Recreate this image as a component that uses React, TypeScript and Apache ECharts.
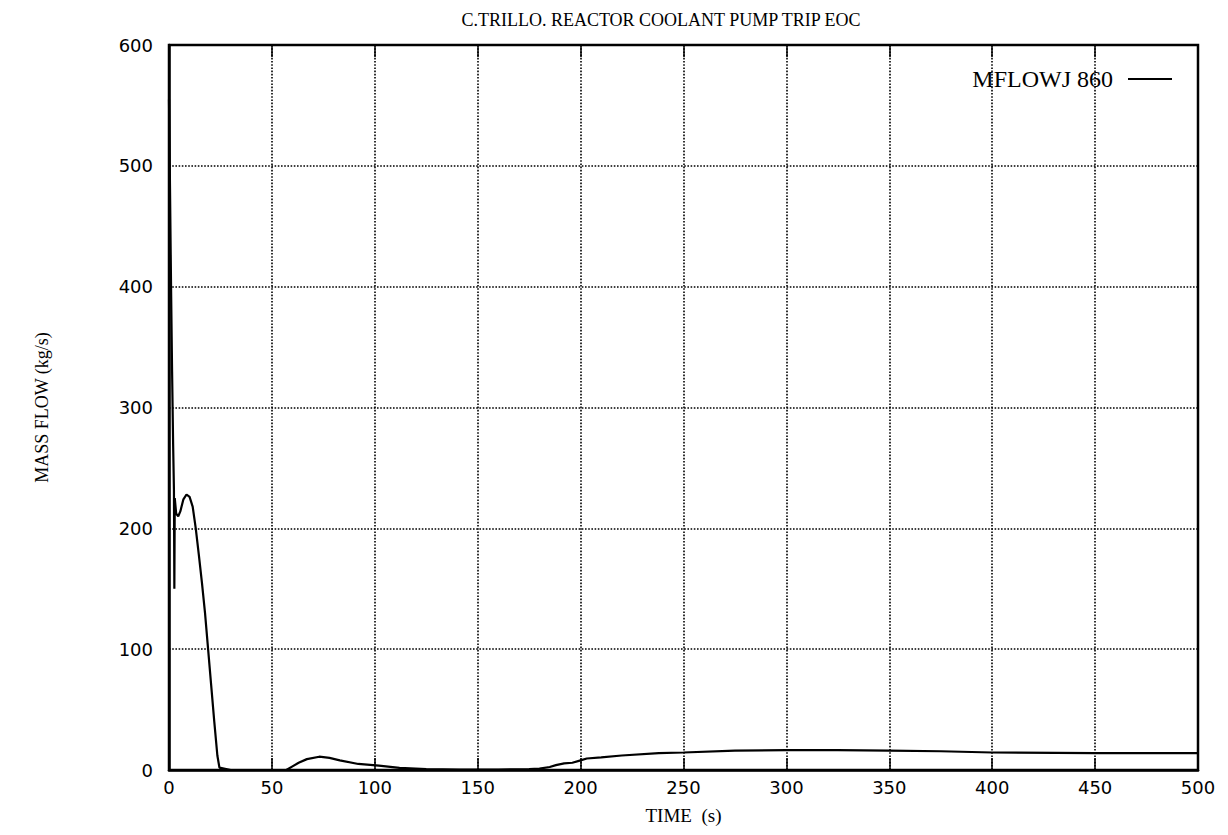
import React, { useEffect, useRef } from "react";
import * as echarts from "echarts";

// Mass flow through junction 860 versus time
const timeS: number[] = [
  0, 0.5, 1, 1.5, 2, 2.4, 2.6, 2.8, 3.5, 4.5, 5.5, 7, 8.5, 10, 11.5, 13, 14.5, 16, 17.5, 19,
  20.5, 22, 23.5, 24.5, 30, 45, 57, 60, 63, 67, 73, 78, 83, 92, 102, 112, 125, 141, 160, 175,
  180, 185, 188, 192, 196, 200, 203, 210, 220, 238, 250, 275, 300, 325, 350, 375, 400, 450, 500,
];
const flowKgS: number[] = [
  555, 480, 400, 330, 270, 232, 150, 225, 212, 210, 214, 224, 228, 226, 218, 200, 178, 155, 130, 100,
  70, 40, 12, 2, 0, 0, 0, 3, 6, 9, 11, 10, 8, 5, 3.6, 1.7, 0.8, 0.3, 0.3, 0.8,
  1.2, 2.5, 4, 5.5, 6, 8, 9.5, 10.5, 12, 14, 14.5, 16, 16.5, 16.5, 16, 15.5, 14.5, 14, 14,
];

const xTicks = { min: 0, max: 500, interval: 50 };
const yTicks = { min: 0, max: 600, interval: 100 };

const titleText = "C.TRILLO. REACTOR COOLANT PUMP TRIP EOC";
const seriesName = "MFLOWJ 860";
const xName = "TIME  (s)";
const yName = "MASS FLOW (kg/s)";

const SERIF = "'Liberation Serif', 'DejaVu Serif', serif";
const NUM = "'DejaVu Sans', 'Noto Sans', sans-serif";

export default function App() {
  const ref = useRef<HTMLDivElement>(null);

  useEffect(() => {
    if (!ref.current) return;
    const chart = echarts.init(ref.current, undefined, { renderer: "svg" });
    const points = timeS.map((t, i) => [t, flowKgS[i]]);
    const dotted = { color: "#000", type: "dotted" as const, width: 1.6 };
    const tickLabel = { color: "#000", fontFamily: NUM, fontSize: 18 };
    const nameStyle = { color: "#000", fontFamily: SERIF, fontSize: 19 };

    chart.setOption({
      animation: false,
      backgroundColor: "#fff",
      title: {
        text: titleText,
        left: 656,
        textAlign: "center",
        top: 6,
        textStyle: { color: "#000", fontFamily: SERIF, fontSize: 18, fontWeight: "normal" },
      },
      legend: {
        right: 56,
        top: 67,
        padding: 0,
        align: "right",
        icon: "rect",
        itemWidth: 44,
        itemHeight: 2,
        textStyle: { color: "#000", fontFamily: SERIF, fontSize: 24, padding: [0, 10, 0, 0] },
        data: [seriesName],
      },
      grid: {
        left: 169,
        right: 30,
        top: 45,
        bottom: 65,
        show: true,
        borderColor: "#000",
        borderWidth: 2.5,
      },
      xAxis: [
        {
          type: "value",
          ...xTicks,
          name: xName,
          nameLocation: "middle",
          nameGap: 36,
          nameTextStyle: nameStyle,
          axisLine: { show: true, lineStyle: { color: "#000", width: 2.5 } },
          axisTick: { show: true, inside: true, length: 12, lineStyle: { color: "#000", width: 1.5 } },
          axisLabel: { ...tickLabel, margin: 8 },
          splitLine: { show: true, lineStyle: dotted },
        },
        {
          type: "value",
          ...xTicks,
          position: "top",
          axisLine: { show: false },
          axisTick: { show: true, inside: true, length: 12, lineStyle: { color: "#000", width: 1.5 } },
          axisLabel: { show: false },
          splitLine: { show: false },
        },
      ],
      yAxis: {
        type: "value",
        ...yTicks,
        name: yName,
        nameLocation: "middle",
        nameGap: 118,
        nameRotate: 90,
        nameTextStyle: { ...nameStyle, fontSize: 18 },
        axisLine: { show: true, lineStyle: { color: "#000", width: 2.5 } },
        axisTick: { show: false },
        axisLabel: { ...tickLabel, margin: 16 },
        splitLine: { show: true, lineStyle: dotted },
      },
      series: [
        {
          name: seriesName,
          type: "line",
          xAxisIndex: 0,
          data: points,
          showSymbol: false,
          smooth: false,
          lineStyle: { color: "#000", width: 2.2 },
          itemStyle: { color: "#000" },
        },
      ],
    });

    return () => chart.dispose();
  }, []);

  return (
    <div
      ref={ref}
      style={{ position: "fixed", left: 0, top: 0, width: 1228, height: 835, background: "#fff" }}
    />
  );
}
